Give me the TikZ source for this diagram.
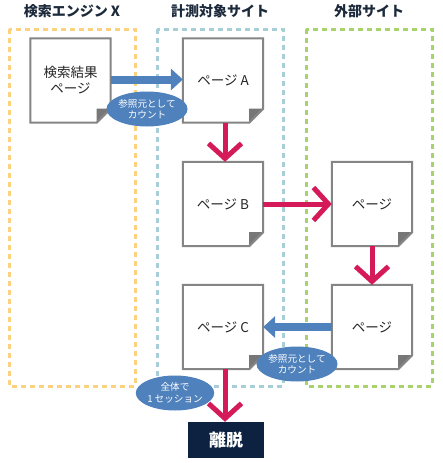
\documentclass[tikz,border=0pt]{standalone}
\usepackage{fontspec}
\setmainfont{Noto Sans CJK JP}
\usetikzlibrary{arrows.meta,shapes.geometric}
\definecolor{orangeD}{HTML}{FCD27E}
\definecolor{tealD}{HTML}{A8CFD7}
\definecolor{greenD}{HTML}{A6D36B}
\definecolor{redA}{HTML}{D51A5A}
\definecolor{blueA}{HTML}{4F81BD}
\definecolor{navy}{HTML}{0C2240}
\definecolor{pgray}{HTML}{858585}
\definecolor{cgray}{HTML}{777777}
\definecolor{titlec}{HTML}{1C2A3C}
\newcommand{\pageframe}[1]{%
  \fill[cgray] ([shift={(-14pt,14pt)}]#1.south east) -- ([yshift=14pt]#1.south east) -- ([xshift=-14pt]#1.south east) -- cycle;
  \draw[pgray, line width=2pt, line join=miter] (#1.north west) -- (#1.north east) -- ([yshift=14pt]#1.south east) -- ([xshift=-14pt]#1.south east) -- (#1.south west) -- cycle;}
\begin{document}
\begin{tikzpicture}[x=1pt,y=-1pt,
  titletext/.style={font=\fontsize{14}{16}\selectfont\bfseries, text=titlec, inner sep=0pt},
  region/.style={line width=3pt, dash pattern=on 5pt off 4pt},
  pagebox/.style={minimum width=80pt, minimum height=84pt, inner sep=0pt, align=center, font=\fontsize{13.5}{16}\selectfont, text=black!85},
  countel/.style={ellipse, fill=blueA, minimum width=71pt, minimum height=35pt, inner sep=0pt, text=white, align=center, font=\fontsize{9.6}{11.5}\selectfont},
  redarrow/.style={draw=redA, line width=5pt, -{Straight Barb[length=15pt,width=33pt]}},
  bluearrow/.style={draw=blueA, line width=8pt, -{Triangle[length=12pt,width=22pt,line width=0pt]}},
]
\useasboundingbox (0,0) rectangle (442,463);
\fill[white] (0,0) rectangle (442,463);
% regions
\draw[region, orangeD] (9,29) rectangle (135,386);
\draw[region, tealD] (157,29) rectangle (283,386);
\draw[region, greenD] (306,29) rectangle (432,386);
% titles
\node[titletext] (t1) at (72,11) {検索エンジン X};
\node[titletext] (t2) at (220,11) {計測対象サイト};
\node[titletext] (t3) at (369,11) {外部サイト};
% pages
\node[pagebox] (p0) at (70.5,80.5) {検索結果\\ページ};
\node[pagebox] (pA) at (223,80.5) {ページ A};
\node[pagebox] (pB) at (223,204) {ページ B};
\node[pagebox] (pE1) at (372,204) {ページ};
\node[pagebox] (pC) at (223,327) {ページ C};
\node[pagebox] (pE2) at (372,327) {ページ};
\pageframe{p0}
\pageframe{pA}
\pageframe{pB}
\pageframe{pE1}
\pageframe{pC}
\pageframe{pE2}
% exit
\node[fill=navy, minimum width=76pt, minimum height=36pt, inner sep=0pt, text=white, font=\fontsize{17}{19}\selectfont\bfseries] (exit) at (226,440) {離脱};
% arrows
\draw[bluearrow] ([yshift=1pt]p0.east) -- ([yshift=1pt]pA.west);
\draw[redarrow] ([xshift=2pt]pA.south) -- ([xshift=2pt]pA.south |- pB.north);
\draw[redarrow] (pB.east) -- (pE1.west);
\draw[redarrow] (pE1.south) -- (pE2.north);
\draw[bluearrow] (pE2.west) -- (pC.east);
\draw[redarrow] ([xshift=2pt]pC.south) -- ([xshift=2pt]pC.south |- exit.north);
% ellipses
\node[countel] (e1) at (147,109) {参照元として\\カウント};
\node[countel] (e2) at (297,364) {参照元として\\カウント};
\node[countel] (e3) at (175,393) {全体で\\1 セッション};
\end{tikzpicture}
\end{document}
